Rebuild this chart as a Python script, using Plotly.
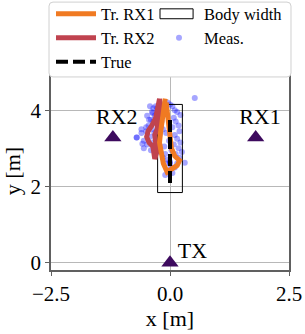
import plotly.graph_objects as go

# trajectories
rx1_x = [-0.1, -0.14, -0.17, -0.2, -0.22, -0.19, -0.14, -0.06, 0.05, 0.15, 0.2, 0.1, 0.03, 0.0, -0.02, -0.05, -0.08]
rx1_y = [4.3, 4.0, 3.7, 3.4, 3.15, 2.9, 2.6, 2.38, 2.45, 2.55, 2.68, 2.8, 3.0, 3.3, 3.6, 3.9, 4.2]
rx2_x = [-0.22, -0.25, -0.3, -0.38, -0.46, -0.49, -0.44, -0.36, -0.34, -0.32, -0.28, -0.3, -0.32, -0.27, -0.25, -0.2, -0.22]
rx2_y = [4.3, 4.05, 3.8, 3.6, 3.45, 3.3, 3.15, 3.05, 2.85, 2.72, 2.9, 3.15, 3.35, 3.5, 3.8, 4.1, 4.3]
true_x = [0.0, 0.0]
true_y = [2.09, 3.78]
body_x = [-0.26, 0.26, 0.26, -0.26, -0.26]
body_y = [1.84, 1.84, 4.15, 4.15, 1.84]
meas_x = [-0.35, -0.3, -0.25, -0.38, -0.32, -0.28, -0.22, -0.4, -0.35, -0.18, -0.3, -0.25, -0.45, -0.2,
          -0.38, -0.15, -0.28, -0.5, -0.33, -0.22, -0.42, -0.6, -0.7, -0.55, -0.48, -0.35, -0.25, -0.3,
          -0.4, -0.2, -0.1, -0.15, -0.05, 0.0, -0.08, 0.02, -0.03, 0.05, -0.1,
          -0.05, 0.0, 0.05, 0.1, 0.15, 0.22, 0.08, 0.12, 0.18, 0.05, 0.2, 0.1, 0.15, 0.22, 0.08, 0.18,
          0.25, 0.12, 0.2, 0.31, 0.15, 0.1, 0.52, -0.12, -0.08, -0.02, -0.12, 0.03, -0.15, -0.42, -0.48,
          -0.5, -0.6, -0.55, -0.7, -0.58, 0.0, -0.36, -0.44, -0.27]
meas_y = [4.05, 4.1, 4.0, 3.95, 3.85, 3.9, 3.8, 3.75, 3.7, 3.7, 3.65, 3.6, 3.6, 3.55,
          3.5, 3.5, 3.45, 3.45, 3.4, 3.35, 3.3, 3.4, 3.28, 3.2, 3.1, 3.15, 3.1, 3.0,
          2.95, 2.9, 2.85, 2.75, 2.7, 2.65, 2.6, 2.5, 2.4, 2.35, 2.3,
          4.2, 4.15, 4.1, 4.0, 3.95, 3.87, 3.8, 3.7, 3.6, 3.55, 3.45, 3.35, 3.25, 3.15, 3.1, 3.0,
          2.9, 2.85, 2.75, 2.62, 2.6, 2.5, 4.32, 3.95, 3.4, 3.2, 3.05, 2.95, 4.15, 4.1, 3.85,
          3.55, 3.5, 3.0, 3.28, 3.12, 2.6, 3.92, 3.75, 4.05]
node_names = ["RX1", "RX2", "TX"]
node_x = [1.8, -1.2, 0.0]
node_y = [3.28, 3.28, 0.0]
label_x = [1.89, -1.12, 0.47]
label_y = [3.77, 3.77, 0.27]
x_ticks = [-2.5, 0.0, 2.5]
y_ticks = [0, 2, 4]

FONT = "Liberation Serif"
fig = go.Figure()
fig.add_trace(go.Scatter(x=meas_x, y=meas_y, mode="markers", name="Meas.", legend="legend5",
                         marker=dict(color="rgba(20,20,255,0.38)", size=6, line=dict(width=0))))
fig.add_trace(go.Scatter(x=body_x, y=body_y, mode="lines", showlegend=False,
                         line=dict(color="black", width=1)))
fig.add_trace(go.Scatter(x=[None], y=[None], mode="lines", name="Body width", legend="legend4",
                         line=dict(color="rgba(0,0,0,0)", width=0)))
fig.add_trace(go.Scatter(x=rx2_x, y=rx2_y, mode="lines", name="Tr. RX2", legend="legend2",
                         line=dict(color="#c0434f", width=5)))
fig.add_trace(go.Scatter(x=rx1_x, y=rx1_y, mode="lines", name="Tr. RX1", legend="legend",
                         line=dict(color="#f07a22", width=5)))
fig.add_trace(go.Scatter(x=true_x, y=true_y, mode="lines", name="True", legend="legend3",
                         line=dict(color="black", width=4, dash="12px,5px")))
fig.add_trace(go.Scatter(x=node_x, y=node_y, mode="markers", showlegend=False,
                         marker=dict(symbol="triangle-up", size=15, color="#3d0a5e")))
fig.add_trace(go.Scatter(x=label_x, y=label_y, mode="text", text=node_names, showlegend=False,
                         textfont=dict(family=FONT, size=22, color="black")))

axis_common = dict(showgrid=True, gridcolor="#b8b8b8", gridwidth=1, zeroline=False,
                   showline=True, mirror=True, linecolor="#606060", linewidth=1.5,
                   ticks="outside", ticklen=4, tickcolor="#606060",
                   tickfont=dict(family=FONT, size=21, color="black"))
fig.update_xaxes(range=[-2.5, 2.5], tickvals=x_ticks, ticktext=["−2.5", "0.0", "2.5"],
                 title=dict(text="x [m]", font=dict(family=FONT, size=22, color="black"), standoff=4),
                 **axis_common)
fig.update_yaxes(range=[-0.19, 5.0], tickvals=y_ticks,
                 title=dict(text="y [m]", font=dict(family=FONT, size=22, color="black"), standoff=4),
                 **axis_common)

# rounded legend frame in paper coordinates
x0, x1, y0, y1 = -0.0084, 1.0084, 0.975, 1.353
rx, ry = 4 / 238, 4 / 198.3
frame_path = (f"M{x0+rx},{y0} L{x1-rx},{y0} Q{x1},{y0} {x1},{y0+ry} "
              f"L{x1},{y1-ry} Q{x1},{y1} {x1-rx},{y1} L{x0+rx},{y1} Q{x0},{y1} {x0},{y1-ry} "
              f"L{x0},{y0+ry} Q{x0},{y0} {x0+rx},{y0} Z")
shapes = [
    dict(type="path", xref="paper", yref="paper", path=frame_path,
         fillcolor="white", line=dict(color="#d0d0d0", width=1), layer="above"),
    # legend symbol for "Body width"
    dict(type="rect", xref="paper", yref="paper", x0=0.458, x1=0.597, y0=1.269, y1=1.319,
         fillcolor="white", line=dict(color="black", width=1), layer="above"),
]
leg_common = dict(orientation="v", yanchor="middle", xanchor="left", bgcolor="rgba(0,0,0,0)",
                  borderwidth=0, font=dict(family=FONT, size=16.5, color="black"),
                  itemwidth=40)
col1 = (51 - 51) / 238
col2 = (154 - 51) / 238
row = [(270.3 - 14) / 198.3, (270.3 - 38) / 198.3, (270.3 - 62) / 198.3]
fig.update_layout(
    width=305, height=334, margin=dict(l=51, r=16, t=72, b=64, autoexpand=False),
    paper_bgcolor="white", plot_bgcolor="white",
    font=dict(family=FONT, color="black"),
    shapes=shapes,
    legend=dict(x=col1, y=row[0], **leg_common),
    legend2=dict(x=col1, y=row[1], **leg_common),
    legend3=dict(x=col1, y=row[2], **leg_common),
    legend4=dict(x=col2, y=row[0], **leg_common),
    legend5=dict(x=col2, y=row[1], **leg_common),
    showlegend=True,
)
fig.write_html("out.html", config={"displayModeBar": False},
               post_script="document.body.style.margin='0';")
